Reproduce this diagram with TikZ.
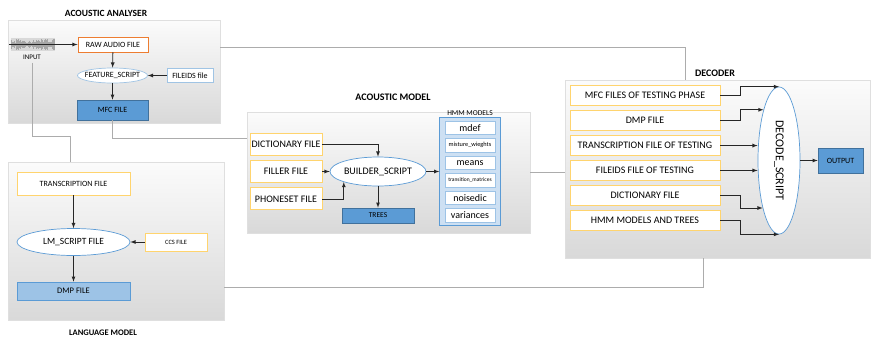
\documentclass[tikz,border=0pt]{standalone}
\usepackage{fontspec}
\setmainfont{Carlito}
\usetikzlibrary{matrix,positioning,shapes.geometric}
\definecolor{myorange}{RGB}{237,125,49}
\definecolor{mygold}{RGB}{255,212,110}
\definecolor{mylightblue}{RGB}{160,196,228}
\definecolor{myblue}{RGB}{91,155,213}
\definecolor{mydarkblue}{RGB}{65,113,156}
\definecolor{mypaleblue}{RGB}{157,195,230}
\definecolor{myhmm}{RGB}{205,224,243}
\newcommand{\fsz}[1]{\fontsize{#1}{#1}\selectfont}

\begin{document}
\begin{tikzpicture}[x=1pt,y=-1pt,font=\fsz{8},
  panel/.style={draw=gray!25,top color=gray!3,bottom color=gray!30,inner sep=0pt},
  title/.style={font=\fsz{9.5}\bfseries},
  filebox/.style={draw=mygold,line width=0.9pt,fill=white,inner sep=1pt},
  bluebox/.style={draw=mydarkblue,fill=myblue,line width=0.6pt,inner sep=1pt},
  oval/.style={ellipse,draw=myblue,fill=white,line width=0.7pt,inner sep=0pt},
  arr/.style={->,>=latex,line width=0.8pt,black!85},
  link/.style={draw=gray!65,line width=0.8pt},
  amat/.style={matrix of nodes,inner sep=0pt,row sep=4.5pt,
    nodes={filebox,minimum width=72pt,minimum height=22pt,font=\fsz{10}}},
  dmat/.style={matrix of nodes,inner sep=0pt,row sep=4pt,
    nodes={filebox,minimum width=150pt,minimum height=20pt,font=\fsz{10}}},
  hmat/.style={matrix of nodes,draw=myblue,fill=myhmm,line width=0.9pt,
    inner xsep=5pt,inner ysep=3pt,row sep=3.5pt,
    nodes={draw=myblue!60,fill=white,line width=0.5pt,minimum width=50pt,
      minimum height=13.5pt,inner sep=0pt,font=\fsz{10}}}]

  \useasboundingbox (0,0) rectangle (871,341);

  % panels
  \node[panel,minimum width=212pt,minimum height=103pt] (aa) at (114,71.5) {};
  \node[panel,minimum width=216pt,minimum height=158pt] (lm) at (116,241) {};
  \node[panel,minimum width=283pt,minimum height=121pt] (am) at (388.5,172.5) {};
  \node[panel,minimum width=305pt,minimum height=178pt] (dec) at (717.5,169) {};

  \node[title] at (106,13) {ACOUSTIC ANALYSER};
  \node[title,font=\fsz{8.5}\bfseries] at (103,333) {LANGUAGE MODEL};
  \node[title,font=\fsz{10}\bfseries] at (393,97) {ACOUSTIC MODEL};
  \node[title,font=\fsz{10}\bfseries] at (715,73) {DECODER};

  % acoustic analyser
  \fill[gray!30] (11,38) rectangle (55,51);
  \pgfmathsetseed{7}
  \foreach \i in {0,...,43} {
    \pgfmathsetmacro\h{1.5+4*rnd}
    \draw[gray!70,line width=0.9pt] (11+\i,44.5-\h) -- (11+\i,44.5+\h);
  }
  \coordinate (wave) at (9,44.5);
  \node[font=\fsz{7}] (inlbl) at (32,57) {INPUT};
  \node[filebox,draw=myorange,minimum width=70pt,minimum height=15pt] (raw) at (113,44.5) {RAW AUDIO FILE};
  \node[oval,draw=mylightblue,minimum width=70pt,minimum height=15pt] (feat) at (112.5,75.5) {\makebox[0pt]{FEATURE\_SCRIPT}};
  \node[filebox,draw=mylightblue,minimum width=46pt,minimum height=14pt] (fileids) at (190,75.5) {FILEIDS file};
  \node[bluebox,minimum width=71pt,minimum height=20pt] (mfc) at (112.5,110) {MFC FILE};

  \draw[arr] (wave) -- (raw);
  \draw[arr] (raw) -- (feat);
  \draw[arr] (fileids) -- (feat);
  \draw[arr] (feat) -- (mfc);

  % language model
  \node[filebox,minimum width=113pt,minimum height=23pt] (trans) at (73.5,183.5) {TRANSCRIPTION FILE};
  \node[oval,minimum width=113pt,minimum height=27pt,font=\fsz{9.5}] (lmscr) at (73.5,242) {LM\_SCRIPT FILE};
  \node[filebox,minimum width=62pt,minimum height=18pt,font=\fsz{6.5}] (ccs) at (176,242) {CCS FILE};
  \node[bluebox,fill=mypaleblue,draw=myblue,minimum width=113pt,minimum height=18pt,font=\fsz{8.5}] (dmp) at (73.5,291) {DMP FILE};

  \draw[arr] (trans) -- (lmscr);
  \draw[arr] (ccs) -- (lmscr);
  \draw[arr] (lmscr) -- (dmp);

  % acoustic model
  \matrix[amat] (amin) at (286,171.5) {DICTIONARY FILE\\ FILLER FILE\\ PHONESET FILE\\};
  \node[oval,minimum width=93pt,minimum height=29pt,font=\fsz{10}] (build) at (378,171.5) {BUILDER\_SCRIPT};
  \node[bluebox,minimum width=72pt,minimum height=15pt,font=\fsz{7.5}] (trees) at (378,215.5) {TREES};
  \matrix[hmat] (hmm) at (470,171.5) {
    mdef\\
    |[font=\fsz{6.3}]| misture\_wieghts\\
    means\\
    |[font=\fsz{5.5}]| transition\_matrices\\
    noisedic\\
    variances\\};
  \node[font=\fsz{7.5},above=-2pt of hmm] (hmmlbl) {HMM MODELS};

  \draw[arr] (amin-1-1.east) -| (build.north);
  \draw[arr] (amin-2-1.east) -- (build.west);
  \draw[arr] (amin-3-1.east) -| (build.south west);
  \draw[arr] (build) -- (trees);
  \draw[arr] (build) -- (hmm);

  % decoder
  \matrix[dmat] (decin) at (645,158) {
    MFC FILES OF TESTING PHASE\\
    DMP FILE\\
    TRANSCRIPTION FILE OF TESTING\\
    FILEIDS FILE OF TESTING\\
    DICTIONARY FILE\\
    HMM MODELS AND TREES\\};
  \node[oval,minimum width=42pt,minimum height=147pt,font=\fsz{12}] (decode) at (779,160.5) {\rotatebox{-90}{DECODE\_SCRIPT}};
  \node[bluebox,minimum width=45pt,minimum height=25pt] (out) at (840.5,160.5) {OUTPUT};

  \draw[arr] (decin-1-1.east) -- ++(20,0) |- (decode.north);
  \draw[arr] (decin-2-1.east) -- ++(20,0) |- (decode.107);
  \draw[arr] (decin-3-1.east) -- (decin-3-1.east -| decode.west);
  \draw[arr] (decin-4-1.east) -- (decin-4-1.east -| decode.west);
  \draw[arr] (decin-5-1.east) -- ++(20,0) |- (decode.251);
  \draw[arr] (decin-6-1.east) -- ++(20,0) |- (decode.south);
  \draw[arr] (decode) -- (out);

  % links between the panels
  \coordinate (topbend) at (685,47);
  \draw[link] (aa.east |- topbend) -- (topbend) -- (topbend |- dec.north);
  \coordinate (inbend) at (70,136);
  \draw[link] (inlbl.south) |- (inbend) -- (inbend |- lm.north);
  \coordinate (mfcbend) at (112.5,138);
  \draw[link] (mfc.south) -- (mfcbend) -- (mfcbend -| am.west);
  \draw[link] (am.east) -- (am.east -| dec.west);
  \coordinate (botbend) at (703,287);
  \draw[link] (lm.east |- botbend) -- (botbend) -- (botbend |- dec.south);

\end{tikzpicture}
\end{document}
